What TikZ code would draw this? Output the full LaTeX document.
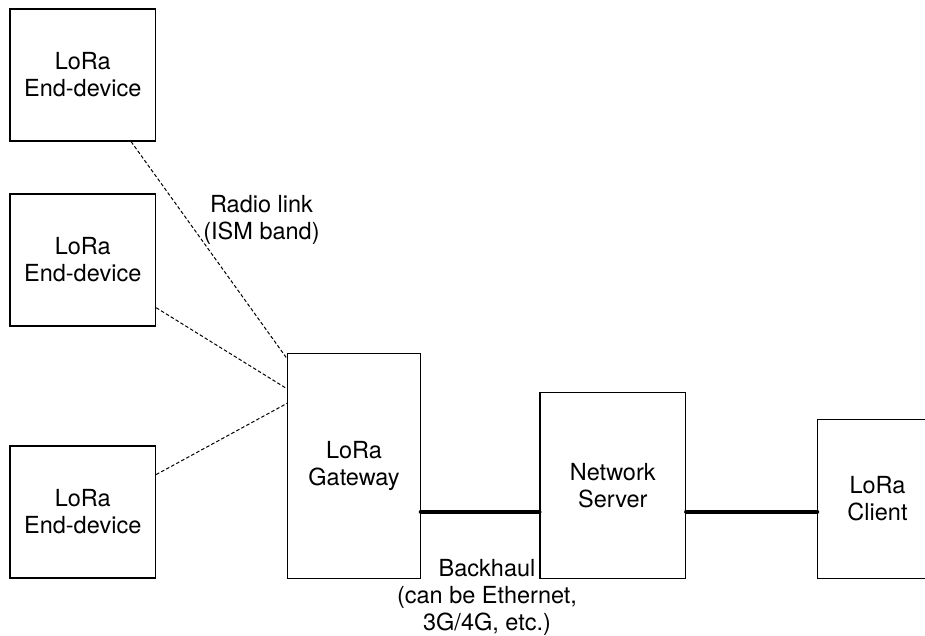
\documentclass[tikz,border=0pt]{standalone}
\usepackage{fontspec}
\setmainfont{TeX Gyre Heros}
\begin{document}
\begin{tikzpicture}[x=1pt,y=-1pt,
  box/.style={draw=black, line width=1.3pt, inner sep=0pt, align=center,
    font=\fontsize{23.5}{27}\selectfont},
  lbl/.style={inner sep=0pt, align=center, font=\fontsize{23.5}{27}\selectfont},
  radio/.style={line width=1pt, dash pattern=on 3.5pt off 2.2pt},
  backhaul/.style={line width=4.5pt, line cap=round}]
\useasboundingbox (0,0) rectangle (925,636);
\clip (0,0) rectangle (925,636);
\node[box, minimum width=145.7pt, minimum height=132pt] (ED1) at (82.7,75) {LoRa\\End-device};
\node[box, minimum width=145.7pt, minimum height=132pt] (ED2) at (82.7,260) {LoRa\\End-device};
\node[box, minimum width=145.7pt, minimum height=132pt] (ED3) at (82.7,512) {LoRa\\End-device};
\node[box, minimum width=132.6pt, minimum height=225pt] (GW) at (354,465.8) {LoRa\\Gateway};
\node[box, minimum width=145.7pt, minimum height=185.6pt] (NS) at (612.8,485.5) {Network\\Server};
\node[box, minimum width=119.6pt, minimum height=159pt] (CL) at (877.5,498.8) {LoRa\\Client};
\node[lbl] (RL) at (261.5,220) {Radio link\\(ISM band)};
\node[lbl] (BH) at (487,597.5) {Backhaul\\(can be Ethernet,\\3G/4G, etc.)};
\coordinate (bh) at (0,511.8);
\draw[radio] (ED1.-54.4) -- (GW.122.96);
\draw[radio] (ED2.-33.3) -- (GW.131.9);
\draw[radio] (ED3.27.5) -- (GW.137.95);
\draw[backhaul] (GW.east |- bh) -- (NS.west |- bh);
\draw[backhaul] (NS.east |- bh) -- (CL.west |- bh);
\end{tikzpicture}
\end{document}
